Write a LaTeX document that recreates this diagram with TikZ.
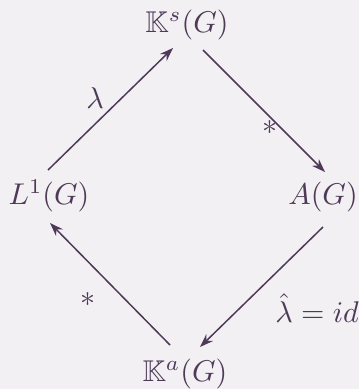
\documentclass[tikz,border=0pt]{standalone}
\usepackage{amssymb}
\usetikzlibrary{arrows.meta}
\definecolor{bg}{RGB}{243,240,243}
\definecolor{ink}{RGB}{78,58,88}
\begin{document}
\begin{tikzpicture}[x=0.3333pt,y=-0.3333pt,
  obj/.style={inner sep=0pt, text=ink},
  lbl/.style={inner sep=0pt, text=ink},
  arr/.style={draw=ink, line width=0.5pt, -{Stealth[length=4.5pt,width=3.2pt]}}]
\fill[bg] (0,0) rectangle (359,389);
\useasboundingbox (0,0) rectangle (359,389);
\node[obj] (ks) at (187,25) {$\mathbb{K}^s(G)$};
\node[obj] (l1) at (49,196) {$L^1(G)$};
\node[obj] (ag) at (323,197) {$A(G)$};
\node[obj] (ka) at (185,374) {$\mathbb{K}^a(G)$};
\draw[arr] ([shift={(-1,-26)}]l1.center) -- ([shift={(-14,23)}]ks.center);
\draw[arr] ([shift={(16,25)}]ks.center) -- ([shift={(2,-25)}]ag.center);
\draw[arr] ([shift={(0,30)}]ag.center) -- ([shift={(15,-27)}]ka.center);
\draw[arr] ([shift={(-15,-29)}]ka.center) -- ([shift={(1,27)}]l1.center);
\node[lbl] (lam) at (95,98) {$\lambda$};
\node[lbl] (st1) at (270,128) {$*$};
\node[lbl] (lid) at (317,308) {$\hat\lambda = id$};
\node[lbl] (st2) at (88,300) {$*$};
\end{tikzpicture}
\end{document}
